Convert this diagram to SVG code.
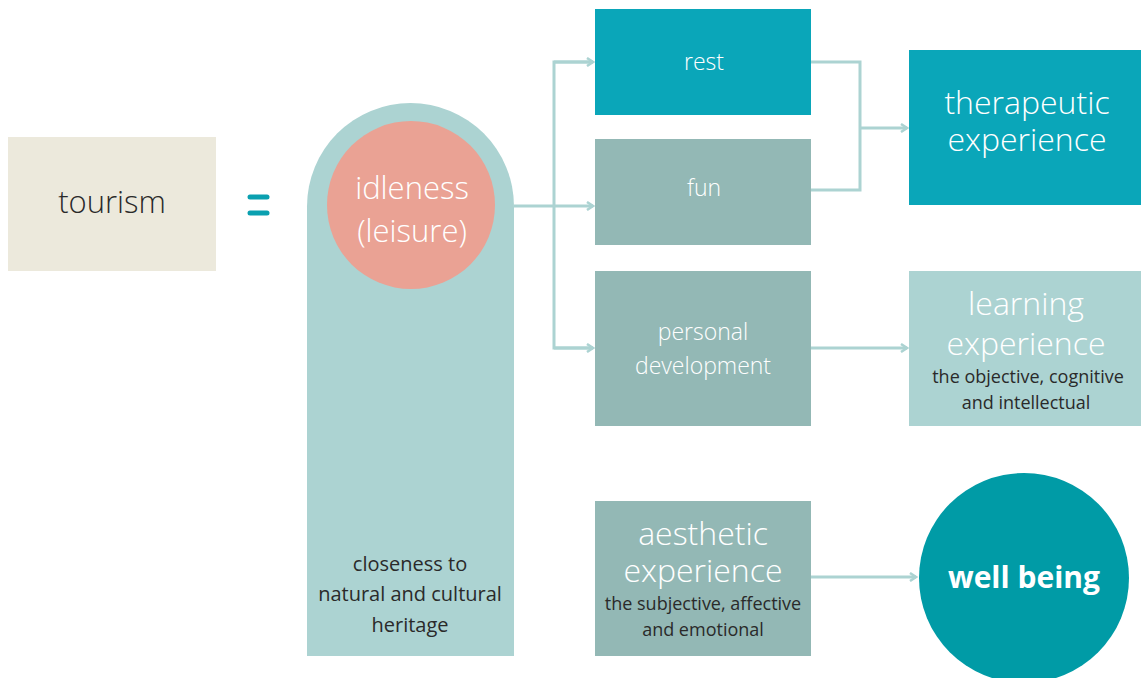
<svg xmlns="http://www.w3.org/2000/svg" width="1141" height="678" viewBox="0 0 1141 678">
<defs>
<style>
text{font-family:"Open Sans","Liberation Sans",sans-serif;text-anchor:middle;font-weight:300}
.w{fill:#ffffff}
.d{fill:#2a2a2a;font-weight:400}
.conn{fill:none;stroke:#acd3d2;stroke-width:3}
</style>
<marker id="arr" viewBox="0 0 10 10" refX="8" refY="5" markerWidth="10" markerHeight="10" markerUnits="userSpaceOnUse" orient="auto">
<path d="M2,1 L8,5 L2,9" fill="none" stroke="#acd3d2" stroke-width="2.5"/>
</marker>
</defs>
<rect width="1141" height="678" fill="#ffffff"/>
<g id="connectors">
<path class="conn" d="M514,206 H593" marker-end="url(#arr)"/>
<path class="conn" d="M593,62 H554 V348 H593" />
<path class="conn" d="M554,62 H593" marker-end="url(#arr)"/>
<path class="conn" d="M554,348 H593" marker-end="url(#arr)"/>
<path class="conn" d="M811,62 H860 V190 H811"/>
<path class="conn" d="M860,128 H907" marker-end="url(#arr)"/>
<path class="conn" d="M811,348 H907" marker-end="url(#arr)"/>
<path class="conn" d="M811,577 H916" marker-end="url(#arr)"/>
</g>
<g id="tourism">
<rect x="8" y="137" width="208" height="134" fill="#ece9dc"/>
<text x="112" y="213" font-size="31" class="w" style="fill:#2a2a2a">tourism</text>
</g>
<g id="equals">
<line x1="250" y1="197" x2="267" y2="197" stroke="#0aa0b0" stroke-width="5" stroke-linecap="round"/>
<line x1="250" y1="213" x2="267" y2="213" stroke="#0aa0b0" stroke-width="5" stroke-linecap="round"/>
</g>
<g id="heritage">
<path d="M307,656 V206.5 A103.5,103.5 0 0 1 514,206.5 V656 Z" fill="#acd3d2"/>
<text x="410" y="571" font-size="20" class="d">closeness to</text>
<text x="410" y="601" font-size="20" class="d">natural and cultural</text>
<text x="410" y="632" font-size="20" class="d">heritage</text>
</g>
<g id="idleness">
<circle cx="411" cy="205" r="84" fill="#eaa294"/>
<text x="412" y="199" font-size="31" class="w">idleness</text>
<text x="412" y="242" font-size="31" class="w">(leisure)</text>
</g>
<g id="rest">
<rect x="595" y="9" width="216" height="106" fill="#0aa6b9"/>
<text x="704" y="70" font-size="23" class="w">rest</text>
</g>
<g id="fun">
<rect x="595" y="139" width="216" height="106" fill="#93b8b5"/>
<text x="704" y="196" font-size="23" class="w">fun</text>
</g>
<g id="personal">
<rect x="595" y="271" width="216" height="155" fill="#93b8b5"/>
<text x="703" y="340" font-size="23" class="w">personal</text>
<text x="703" y="374" font-size="23" class="w">development</text>
</g>
<g id="therapeutic">
<rect x="909" y="50" width="232" height="155" fill="#0aa6b9"/>
<text x="1027" y="114" font-size="32" class="w">therapeutic</text>
<text x="1027" y="151" font-size="32" class="w">experience</text>
</g>
<g id="learning">
<rect x="909" y="271" width="232" height="155" fill="#acd3d2"/>
<text x="1026" y="315" font-size="32" class="w">learning</text>
<text x="1026" y="355" font-size="32" class="w">experience</text>
<text x="1028" y="383" font-size="18" class="d">the objective, cognitive</text>
<text x="1026" y="409" font-size="18" class="d">and intellectual</text>
</g>
<g id="aesthetic">
<rect x="595" y="501" width="216" height="155" fill="#93b8b5"/>
<text x="703" y="545" font-size="32" class="w">aesthetic</text>
<text x="703" y="582" font-size="32" class="w">experience</text>
<text x="703" y="610" font-size="18" class="d">the subjective, affective</text>
<text x="703" y="636" font-size="18" class="d">and emotional</text>
</g>
<g id="wellbeing">
<circle cx="1024" cy="578" r="105" fill="#009ba6"/>
<text x="1024" y="588" font-size="30" class="w" style="font-weight:700">well being</text>
</g>
</svg>
